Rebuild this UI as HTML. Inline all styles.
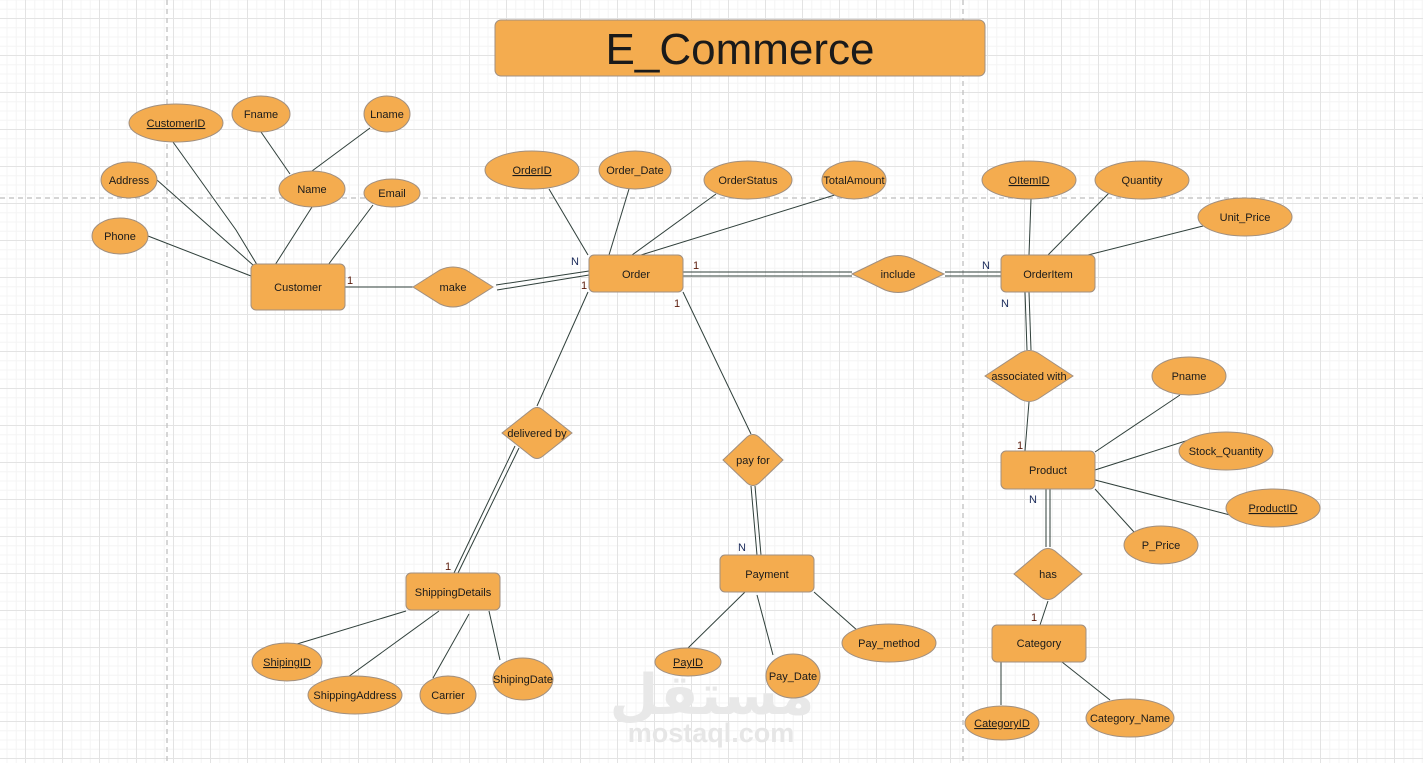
<!DOCTYPE html>
<html><head><meta charset="utf-8"><style>
html,body{margin:0;padding:0;}
body{width:1423px;height:763px;overflow:hidden;background:#fff;
background-image:
linear-gradient(#e3e3e3 1px,transparent 1px),
linear-gradient(90deg,#e3e3e3 1px,transparent 1px),
linear-gradient(#f4f4f4 1px,transparent 1px),
linear-gradient(90deg,#f4f4f4 1px,transparent 1px);
background-size:37px 37px,37px 37px,9.25px 9.25px,9.25px 9.25px;
background-position:25px 18px,25px 18px,25px 18px,25px 18px;}
svg{position:absolute;left:0;top:0;font-family:"Liberation Sans",Arial,sans-serif;}
</style></head><body>
<svg width="1423" height="763" viewBox="0 0 1423 763">
<g stroke="#c8c8c8" stroke-width="1.5" stroke-dasharray="5,4">
<line x1="167" y1="0" x2="167" y2="763"/>
<line x1="963" y1="0" x2="963" y2="763"/>
<line x1="0" y1="198" x2="1423" y2="198"/>
</g>
<!-- watermark -->
<text x="712" y="714" font-size="56" font-weight="bold" fill="#e8e8e8" text-anchor="middle" font-family="'DejaVu Sans',sans-serif">مستقل</text>
<text x="711" y="742" font-size="27" font-weight="bold" fill="#e6e6e6" text-anchor="middle">mostaql.com</text>

<g stroke="#2f3f3a" stroke-width="1" fill="none">
<polyline points="173,142 236,230 259,268"/>
<line x1="261" y1="132" x2="290" y2="174"/>
<line x1="370" y1="128" x2="312" y2="171"/>
<line x1="157" y1="180" x2="253" y2="265"/>
<line x1="312" y1="207" x2="275" y2="265"/>
<line x1="373" y1="205" x2="328" y2="265"/>
<line x1="148" y1="236" x2="251" y2="276"/>
<line x1="345" y1="287" x2="413" y2="287"/>
<line x1="496" y1="285" x2="589" y2="271"/>
<line x1="497" y1="290" x2="589" y2="275"/>
<line x1="549" y1="189" x2="588" y2="255"/>
<line x1="629" y1="189" x2="609" y2="255"/>
<line x1="716" y1="194" x2="632" y2="255"/>
<line x1="838" y1="194" x2="641" y2="255"/>
<line x1="683" y1="272" x2="852" y2="272"/>
<line x1="683" y1="276" x2="852" y2="276"/>
<line x1="945" y1="272" x2="1001" y2="272"/>
<line x1="945" y1="276" x2="1001" y2="276"/>
<line x1="1031" y1="199" x2="1029" y2="255"/>
<line x1="1110" y1="192" x2="1048" y2="255"/>
<line x1="1203" y1="226" x2="1088" y2="255"/>
<line x1="1025" y1="292" x2="1027" y2="350"/>
<line x1="1029" y1="292" x2="1031" y2="350"/>
<line x1="1029" y1="402" x2="1025" y2="451"/>
<line x1="1180" y1="395" x2="1095" y2="452"/>
<line x1="1195" y1="438" x2="1095" y2="470"/>
<line x1="1230" y1="515" x2="1095" y2="480"/>
<line x1="1134" y1="532" x2="1095" y2="489"/>
<line x1="1046" y1="489" x2="1046" y2="547"/>
<line x1="1050" y1="489" x2="1050" y2="547"/>
<line x1="1048" y1="601" x2="1040" y2="625"/>
<line x1="1001" y1="662" x2="1001" y2="705"/>
<line x1="1062" y1="662" x2="1110" y2="700"/>
<line x1="588" y1="292" x2="537" y2="406"/>
<line x1="683" y1="292" x2="751" y2="434"/>
<line x1="515" y1="446" x2="454" y2="573"/>
<line x1="519" y1="448" x2="458" y2="573"/>
<line x1="751" y1="486" x2="757" y2="555"/>
<line x1="755" y1="486" x2="761" y2="555"/>
<line x1="406" y1="611" x2="297" y2="644"/>
<line x1="439" y1="611" x2="348" y2="677"/>
<line x1="469" y1="614" x2="433" y2="678"/>
<line x1="489" y1="611" x2="500" y2="660"/>
<line x1="745" y1="592" x2="688" y2="648"/>
<line x1="757" y1="595" x2="773" y2="655"/>
<line x1="814" y1="592" x2="858" y2="631"/>
</g>

<g fill="#f4ac4f" stroke="#a08f80" stroke-width="1">
<rect x="495" y="20" width="490" height="56" rx="6"/>
<rect x="251" y="264" width="94" height="46" rx="5"/>
<rect x="589" y="255" width="94" height="37" rx="5"/>
<rect x="1001" y="255" width="94" height="37" rx="5"/>
<rect x="1001" y="451" width="94" height="38" rx="5"/>
<rect x="992" y="625" width="94" height="37" rx="5"/>
<rect x="406" y="573" width="94" height="37" rx="5"/>
<rect x="720" y="555" width="94" height="37" rx="5"/>
<path d="M413,287 L440,270 Q453,264 466,270 L493,287 L466,304 Q453,310 440,304 Z"/>
<path d="M852,274 L885,258 Q898,253 911,258 L944,274 L911,290 Q898,295 885,290 Z"/>
<path d="M985,376 L1020,353 Q1029,348 1038,353 L1073,376 L1038,399 Q1029,404 1020,399 Z"/>
<path d="M1014,574 L1041,551 Q1048,546 1055,551 L1082,574 L1055,597 Q1048,602 1041,597 Z"/>
<path d="M502,433 L531,410 Q537,405 543,410 L572,433 L543,456 Q537,461 531,456 Z"/>
<path d="M723,460 L747,437 Q753,432 759,437 L783,460 L759,483 Q753,488 747,483 Z"/>
<ellipse cx="176" cy="123" rx="47" ry="19"/>
<ellipse cx="261" cy="114" rx="29" ry="18"/>
<ellipse cx="387" cy="114" rx="23" ry="18"/>
<ellipse cx="129" cy="180" rx="28" ry="18"/>
<ellipse cx="312" cy="189" rx="33" ry="18"/>
<ellipse cx="392" cy="193" rx="28" ry="14"/>
<ellipse cx="120" cy="236" rx="28" ry="18"/>
<ellipse cx="532" cy="170" rx="47" ry="19"/>
<ellipse cx="635" cy="170" rx="36" ry="19"/>
<ellipse cx="748" cy="180" rx="44" ry="19"/>
<ellipse cx="854" cy="180" rx="32" ry="19"/>
<ellipse cx="1029" cy="180" rx="47" ry="19"/>
<ellipse cx="1142" cy="180" rx="47" ry="19"/>
<ellipse cx="1245" cy="217" rx="47" ry="19"/>
<ellipse cx="1189" cy="376" rx="37" ry="19"/>
<ellipse cx="1226" cy="451" rx="47" ry="19"/>
<ellipse cx="1273" cy="508" rx="47" ry="19"/>
<ellipse cx="1161" cy="545" rx="37" ry="19"/>
<ellipse cx="287" cy="662" rx="35" ry="19"/>
<ellipse cx="355" cy="695" rx="47" ry="19"/>
<ellipse cx="448" cy="695" rx="28" ry="19"/>
<ellipse cx="523" cy="679" rx="30" ry="21"/>
<ellipse cx="688" cy="662" rx="33" ry="14"/>
<ellipse cx="793" cy="676" rx="27" ry="22"/>
<ellipse cx="889" cy="643" rx="47" ry="19"/>
<ellipse cx="1002" cy="723" rx="37" ry="17"/>
<ellipse cx="1130" cy="718" rx="44" ry="19"/>
</g>

<text x="740" y="64" font-size="44" fill="#1a1a1a" text-anchor="middle">E_Commerce</text>
<g font-size="11" fill="#1a1a1a" text-anchor="middle">
<text x="298" y="291">Customer</text>
<text x="636" y="278">Order</text>
<text x="1048" y="278">OrderItem</text>
<text x="1048" y="474">Product</text>
<text x="1039" y="647">Category</text>
<text x="453" y="596">ShippingDetails</text>
<text x="767" y="578">Payment</text>
<text x="453" y="291">make</text>
<text x="898" y="278">include</text>
<text x="1029" y="380">associated with</text>
<text x="1048" y="578">has</text>
<text x="537" y="437">delivered by</text>
<text x="753" y="464">pay for</text>
<text x="176" y="127" text-decoration="underline">CustomerID</text>
<text x="261" y="118">Fname</text>
<text x="387" y="118">Lname</text>
<text x="129" y="184">Address</text>
<text x="312" y="193">Name</text>
<text x="392" y="197">Email</text>
<text x="120" y="240">Phone</text>
<text x="532" y="174" text-decoration="underline">OrderID</text>
<text x="635" y="174">Order_Date</text>
<text x="748" y="184">OrderStatus</text>
<text x="854" y="184">TotalAmount</text>
<text x="1029" y="184" text-decoration="underline">OItemID</text>
<text x="1142" y="184">Quantity</text>
<text x="1245" y="221">Unit_Price</text>
<text x="1189" y="380">Pname</text>
<text x="1226" y="455">Stock_Quantity</text>
<text x="1273" y="512" text-decoration="underline">ProductID</text>
<text x="1161" y="549">P_Price</text>
<text x="287" y="666" text-decoration="underline">ShipingID</text>
<text x="355" y="699">ShippingAddress</text>
<text x="448" y="699">Carrier</text>
<text x="523" y="683">ShipingDate</text>
<text x="688" y="666" text-decoration="underline">PayID</text>
<text x="793" y="680">Pay_Date</text>
<text x="889" y="647">Pay_method</text>
<text x="1002" y="727" text-decoration="underline">CategoryID</text>
<text x="1130" y="722">Category_Name</text>
</g>
<g font-size="11">
<text x="347" y="284" fill="#5a1a0a">1</text>
<text x="571" y="265" fill="#1a2a5a">N</text>
<text x="581" y="289" fill="#5a1a0a">1</text>
<text x="693" y="269" fill="#5a1a0a">1</text>
<text x="982" y="269" fill="#1a2a5a">N</text>
<text x="1001" y="307" fill="#1a2a5a">N</text>
<text x="1017" y="449" fill="#5a1a0a">1</text>
<text x="1029" y="503" fill="#1a2a5a">N</text>
<text x="1031" y="621" fill="#5a1a0a">1</text>
<text x="445" y="570" fill="#5a1a0a">1</text>
<text x="674" y="307" fill="#5a1a0a">1</text>
<text x="738" y="551" fill="#1a2a5a">N</text>
</g>
</svg>
</body></html>
